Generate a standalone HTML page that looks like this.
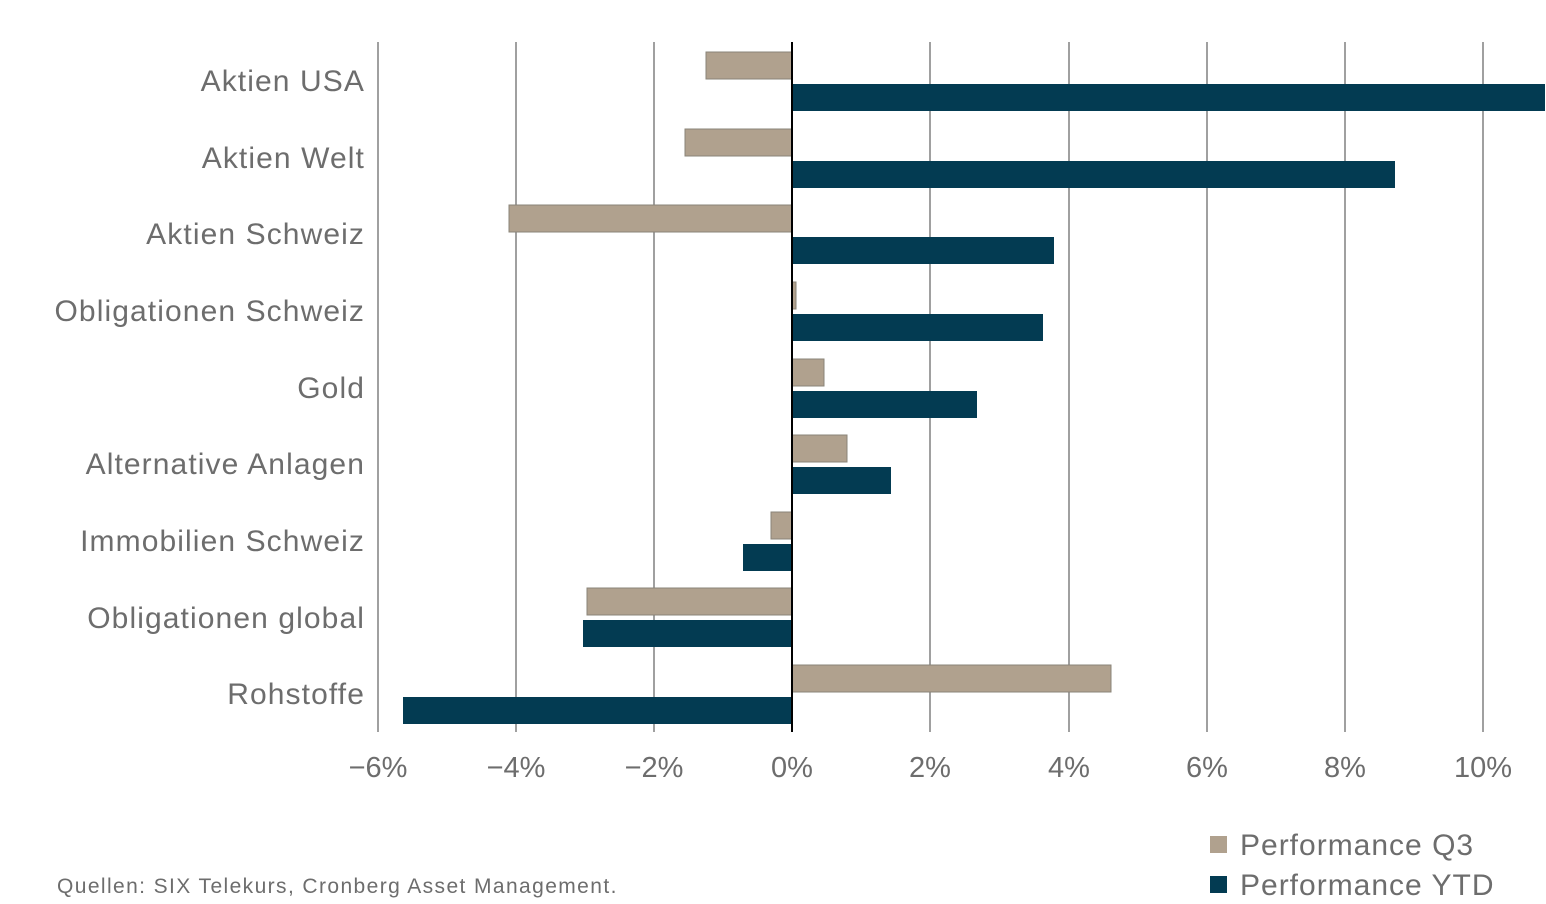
<!DOCTYPE html>
<html><head><meta charset="utf-8"><style>
html,body{margin:0;padding:0;background:#fff;}
svg{display:block;font-family:"Liberation Sans",sans-serif;}
</style></head><body>
<svg width="1546" height="904" viewBox="0 0 1546 904">
<g stroke="#a0a0a0" stroke-width="2">
<line x1="378" y1="42" x2="378" y2="732"/>
<line x1="516" y1="42" x2="516" y2="732"/>
<line x1="654" y1="42" x2="654" y2="732"/>
<line x1="930" y1="42" x2="930" y2="732"/>
<line x1="1069" y1="42" x2="1069" y2="732"/>
<line x1="1207" y1="42" x2="1207" y2="732"/>
<line x1="1345" y1="42" x2="1345" y2="732"/>
<line x1="1483" y1="42" x2="1483" y2="732"/>
</g>
<g fill="#b0a18e" stroke="#8a8478" stroke-width="1">
<rect x="706" y="52" width="86" height="27"/>
<rect x="685" y="129" width="107" height="27"/>
<rect x="509" y="205" width="283" height="27"/>
<rect x="792" y="282" width="4" height="27"/>
<rect x="792" y="359" width="32" height="27"/>
<rect x="792" y="435" width="55" height="27"/>
<rect x="771" y="512" width="21" height="27"/>
<rect x="587" y="588" width="205" height="27"/>
<rect x="792" y="665" width="319" height="27"/>
</g>
<g fill="#033b52">
<rect x="792" y="84" width="753" height="27"/>
<rect x="792" y="161" width="603" height="27"/>
<rect x="792" y="237" width="262" height="27"/>
<rect x="792" y="314" width="251" height="27"/>
<rect x="792" y="391" width="185" height="27"/>
<rect x="792" y="467" width="99" height="27"/>
<rect x="743" y="544" width="49" height="27"/>
<rect x="583" y="620" width="209" height="27"/>
<rect x="403" y="697" width="389" height="27"/>
</g>
<line x1="792" y1="42" x2="792" y2="732" stroke="#000" stroke-width="2"/>
<g fill="#6d6d6d" font-size="30" text-anchor="end" letter-spacing="1.1">
<text x="365" y="91">Aktien USA</text>
<text x="365" y="168">Aktien Welt</text>
<text x="365" y="244">Aktien Schweiz</text>
<text x="365" y="321">Obligationen Schweiz</text>
<text x="365" y="398">Gold</text>
<text x="365" y="474">Alternative Anlagen</text>
<text x="365" y="551">Immobilien Schweiz</text>
<text x="365" y="628">Obligationen global</text>
<text x="365" y="704">Rohstoffe</text>
</g>
<g fill="#6d6d6d" font-size="29" text-anchor="middle">
<text x="378" y="777">−6%</text>
<text x="516" y="777">−4%</text>
<text x="654" y="777">−2%</text>
<text x="792" y="777">0%</text>
<text x="930" y="777">2%</text>
<text x="1069" y="777">4%</text>
<text x="1207" y="777">6%</text>
<text x="1345" y="777">8%</text>
<text x="1483" y="777">10%</text>
</g>
<rect x="1210" y="836" width="17" height="17" fill="#b0a18e"/>
<rect x="1210" y="876" width="17" height="17" fill="#033b52"/>
<g fill="#6d6d6d" font-size="30" letter-spacing="1">
<text x="1240" y="855">Performance Q3</text>
<text x="1240" y="895">Performance YTD</text>
</g>
<text x="57" y="893" fill="#6d6d6d" font-size="21" letter-spacing="1.4">Quellen: SIX Telekurs, Cronberg Asset Management.</text>
</svg>
</body></html>
